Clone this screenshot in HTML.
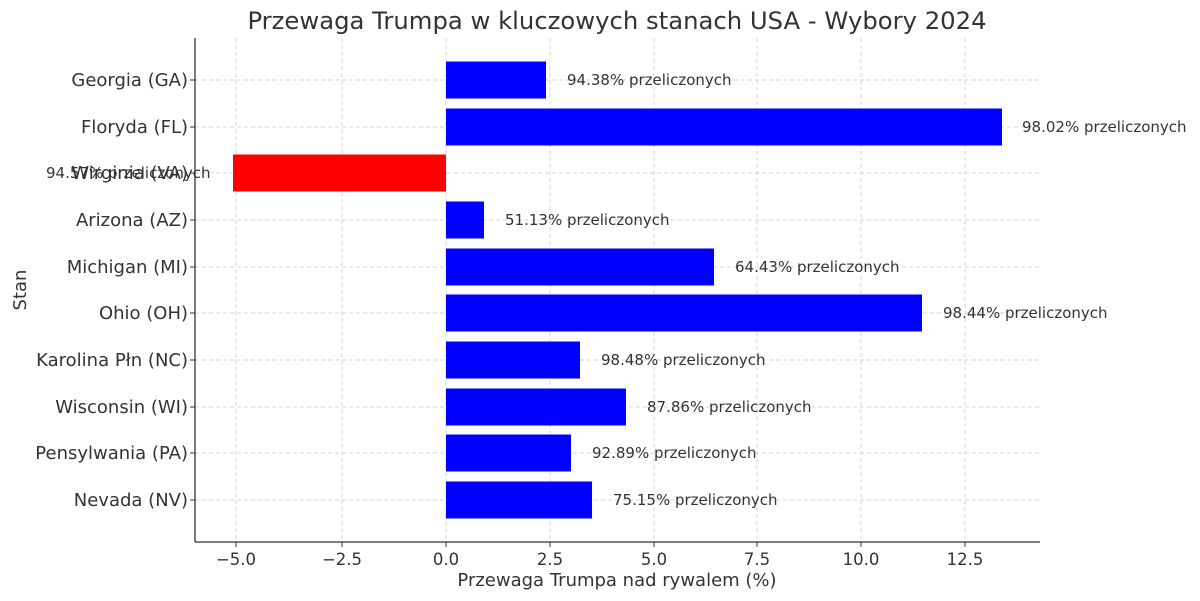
<!DOCTYPE html>
<html><head><meta charset="utf-8"><style>body{margin:0;background:#fff}svg{display:block;font-family:"DejaVu Sans","Liberation Sans",sans-serif}</style></head>
<body>
<svg width="1200" height="601" viewBox="0 0 1200 601" xmlns="http://www.w3.org/2000/svg">
<rect width="1200" height="601" fill="#fff"/>
<g stroke="#d6d6d6" stroke-width="1" stroke-dasharray="4,3">
<line x1="236" y1="38" x2="236" y2="542"/><line x1="342" y1="38" x2="342" y2="542"/><line x1="446" y1="38" x2="446" y2="542"/><line x1="550" y1="38" x2="550" y2="542"/><line x1="654" y1="38" x2="654" y2="542"/><line x1="757" y1="38" x2="757" y2="542"/><line x1="861" y1="38" x2="861" y2="542"/><line x1="965" y1="38" x2="965" y2="542"/>
<line x1="195" y1="80" x2="1040" y2="80"/><line x1="195" y1="127" x2="1040" y2="127"/><line x1="195" y1="173" x2="1040" y2="173"/><line x1="195" y1="220" x2="1040" y2="220"/><line x1="195" y1="267" x2="1040" y2="267"/><line x1="195" y1="313" x2="1040" y2="313"/><line x1="195" y1="360" x2="1040" y2="360"/><line x1="195" y1="407" x2="1040" y2="407"/><line x1="195" y1="453" x2="1040" y2="453"/><line x1="195" y1="500" x2="1040" y2="500"/>
</g>
<g fill="#0000ff">
<rect x="446" y="61.5" width="100" height="37"/>
<rect x="446" y="108.5" width="556" height="37"/>
<rect x="446" y="201.5" width="38" height="37"/>
<rect x="446" y="248.5" width="268" height="37"/>
<rect x="446" y="294.5" width="476" height="37"/>
<rect x="446" y="341.5" width="134" height="37"/>
<rect x="446" y="388.5" width="180" height="37"/>
<rect x="446" y="434.5" width="125" height="37"/>
<rect x="446" y="481.5" width="146" height="37"/>
</g>
<rect x="233" y="154.5" width="213" height="37" fill="#ff0000"/>
<g stroke="#333" stroke-width="1.3" fill="none">
<line x1="195" y1="38" x2="195" y2="542"/><line x1="195" y1="542" x2="1040" y2="542"/>
</g>
<g stroke="#333" stroke-width="1">
<line x1="236" y1="542" x2="236" y2="547"/><line x1="342" y1="542" x2="342" y2="547"/><line x1="446" y1="542" x2="446" y2="547"/><line x1="550" y1="542" x2="550" y2="547"/><line x1="654" y1="542" x2="654" y2="547"/><line x1="757" y1="542" x2="757" y2="547"/><line x1="861" y1="542" x2="861" y2="547"/><line x1="965" y1="542" x2="965" y2="547"/>
<line x1="190" y1="80" x2="195" y2="80"/><line x1="190" y1="127" x2="195" y2="127"/><line x1="190" y1="173" x2="195" y2="173"/><line x1="190" y1="220" x2="195" y2="220"/><line x1="190" y1="267" x2="195" y2="267"/><line x1="190" y1="313" x2="195" y2="313"/><line x1="190" y1="360" x2="195" y2="360"/><line x1="190" y1="407" x2="195" y2="407"/><line x1="190" y1="453" x2="195" y2="453"/><line x1="190" y1="500" x2="195" y2="500"/>
</g>
<g fill="#333" font-size="16.5" text-anchor="middle">
<text x="236" y="565">−5.0</text><text x="342" y="565">−2.5</text><text x="446" y="565">0.0</text><text x="550" y="565">2.5</text><text x="654" y="565">5.0</text><text x="757" y="565">7.5</text><text x="861" y="565">10.0</text><text x="965" y="565">12.5</text>
</g>
<g fill="#333" font-size="18" text-anchor="end">
<text x="188" y="86">Georgia (GA)</text><text x="188" y="133">Floryda (FL)</text><text x="188" y="179">Wirginia (VA)</text><text x="188" y="226">Arizona (AZ)</text><text x="188" y="273">Michigan (MI)</text><text x="188" y="319">Ohio (OH)</text><text x="188" y="366">Karolina Płn (NC)</text><text x="188" y="413">Wisconsin (WI)</text><text x="188" y="459">Pensylwania (PA)</text><text x="188" y="506">Nevada (NV)</text>
</g>
<g fill="#333" font-size="15">
<text x="567" y="85">94.38% przeliczonych</text>
<text x="1022" y="132">98.02% przeliczonych</text>
<text x="46" y="178">94.57% przeliczonych</text>
<text x="505" y="225">51.13% przeliczonych</text>
<text x="735" y="272">64.43% przeliczonych</text>
<text x="943" y="318">98.44% przeliczonych</text>
<text x="601" y="365">98.48% przeliczonych</text>
<text x="647" y="412">87.86% przeliczonych</text>
<text x="592" y="458">92.89% przeliczonych</text>
<text x="613" y="505">75.15% przeliczonych</text>
</g>
<text x="617" y="586" fill="#333" font-size="18" text-anchor="middle">Przewaga Trumpa nad rywalem (%)</text>
<text transform="translate(26,290) rotate(-90)" fill="#333" font-size="18" text-anchor="middle">Stan</text>
<text x="617" y="29" fill="#333" font-size="24.3" text-anchor="middle">Przewaga Trumpa w kluczowych stanach USA - Wybory 2024</text>
</svg>
</body></html>
